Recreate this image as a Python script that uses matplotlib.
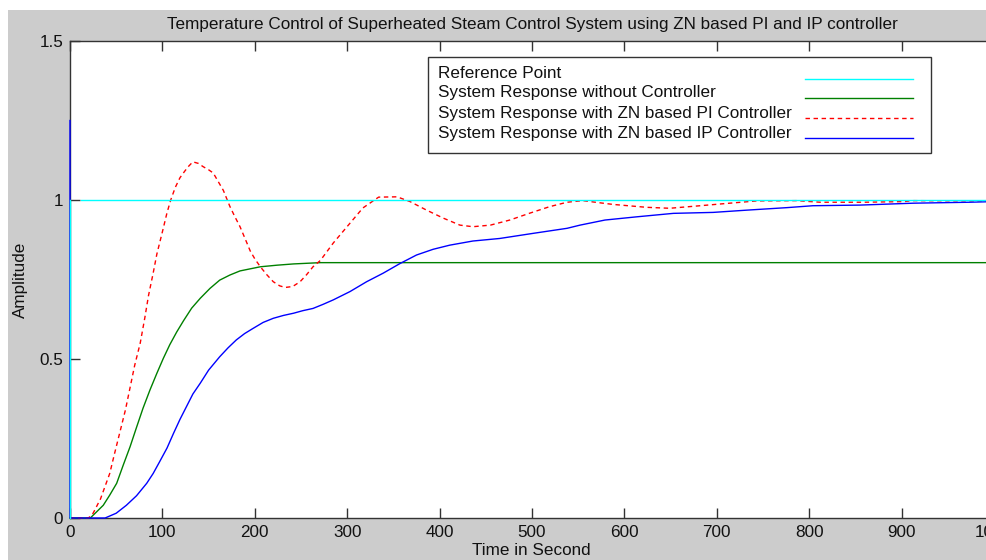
import numpy as np
import matplotlib
matplotlib.use("Agg")
import matplotlib.pyplot as plt
from matplotlib.patches import Rectangle
from matplotlib.lines import Line2D

# ---------------- data ----------------
ref_t = [0, 0, np.nan, 12, 1000]
ref_y = [0, 1, np.nan, 1, 1]

nc_t = [0, 22, 36, 43, 50.5, 57.7, 65, 72, 79, 86.6, 94, 101, 108, 115.5, 123, 131.7,
        141, 151.5, 162, 173, 184, 206, 224, 242, 271, 1000]
nc_y = [0, 0, 0.04, 0.072, 0.109, 0.167, 0.224, 0.285, 0.345, 0.403, 0.455, 0.502,
        0.545, 0.585, 0.621, 0.66, 0.691, 0.722, 0.748, 0.764, 0.777, 0.79, 0.795,
        0.799, 0.803, 0.803]

pi_t = [0, 20, 25, 33, 43, 48, 54, 60, 65, 70, 76, 81, 85, 90, 94, 100, 105, 109, 114,
        119, 124, 128, 133, 139, 144, 150, 155, 160, 166, 173, 178, 184, 190, 195, 200,
        206, 213, 220, 227, 233, 241, 249, 256, 263, 271, 285, 303, 317, 334, 354, 368,
        386, 404, 422, 436, 455, 476, 498, 519, 538, 555, 574, 588, 624, 649, 678, 714,
        743, 786, 812, 859, 902, 913, 985, 1000]
pi_y = [0, 0, 0.015, 0.06, 0.14, 0.2, 0.27, 0.34, 0.41, 0.48, 0.55, 0.63, 0.70, 0.77,
        0.83, 0.90, 0.96, 1.0, 1.04, 1.07, 1.09, 1.105, 1.12, 1.115, 1.105, 1.095, 1.085,
        1.06, 1.03, 0.98, 0.95, 0.916, 0.875, 0.84, 0.815, 0.79, 0.765, 0.743, 0.73,
        0.725, 0.728, 0.743, 0.765, 0.79, 0.81, 0.865, 0.927, 0.975, 1.009, 1.01, 0.995,
        0.968, 0.943, 0.921, 0.916, 0.921, 0.937, 0.959, 0.979, 0.993, 0.998, 0.991,
        0.986, 0.977, 0.974, 0.981, 0.99, 0.997, 0.998, 0.993, 0.993, 0.995, 0.998,
        0.997, 0.997]

ip_t = [0, 0, 38, 50, 61, 72, 83, 90, 97, 105, 112, 119, 126, 133, 141, 150, 162, 171,
        180, 189, 198, 209, 220, 231, 242, 252, 263, 274, 285, 303, 321, 339, 357, 375,
        393, 411, 436, 465, 501, 538, 552, 579, 613, 653, 696, 732, 776, 804, 855, 913,
        974, 1000]
ip_y = [1.25, 0, 0, 0.015, 0.04, 0.07, 0.109, 0.14, 0.177, 0.22, 0.266, 0.31, 0.35,
        0.39, 0.424, 0.465, 0.507, 0.535, 0.56, 0.58, 0.596, 0.615, 0.628, 0.637, 0.644,
        0.652, 0.659, 0.672, 0.686, 0.712, 0.743, 0.77, 0.80, 0.827, 0.845, 0.858,
        0.871, 0.879, 0.895, 0.911, 0.921, 0.937, 0.947, 0.958, 0.961, 0.968, 0.976,
        0.982, 0.984, 0.99, 0.993, 0.995]

labels = ["Reference Point",
          "System Response without Controller",
          "System Response with ZN based PI Controller",
          "System Response with ZN based IP Controller"]
x_ticks = [0, 100, 200, 300, 400, 500, 600, 700, 800, 900, 1000]
y_ticks = [0, 0.5, 1, 1.5]
y_tick_labels = ["0", "0.5", "1", "1.5"]

title = "Temperature Control of Superheated Steam Control System using ZN based PI and IP controller"
xlabel = "Time in Second"
ylabel = "Amplitude"

# ---------------- style ----------------
plt.rcParams['font.family'] = ['Liberation Sans', 'DejaVu Sans']
FS = 12.3
W, H = 987, 560
fig = plt.figure(figsize=(W / 100, H / 100), dpi=100, facecolor='white')
fig.patches.append(Rectangle((8 / W, 0), 1, (H - 10) / H, transform=fig.transFigure,
                             facecolor='#cccccc', edgecolor='none', zorder=-10))

L, R, T, B = 70, 994, 41, 518
ax = fig.add_axes([L / W, (H - B) / H, (R - L) / W, (B - T) / H])
ax.set_facecolor('white')
ax.set_xlim(0, 1000)
ax.set_ylim(0, 1.5)

cyan, green, red, blue = '#00ffff', '#008000', '#ff0000', '#0000ff'
lw = 1.0
dash = (0, (3.2, 2.6))
ax.plot(nc_t, nc_y, color=green, lw=lw, zorder=3, clip_on=False)
ax.plot(pi_t, pi_y, color=red, lw=lw, ls=dash, zorder=3, clip_on=False)
ax.plot(ip_t, ip_y, color=blue, lw=lw, zorder=3, clip_on=False)
ax.plot(ref_t, ref_y, color=cyan, lw=lw, zorder=4, clip_on=False)

ax.set_xticks(x_ticks)
ax.set_yticks(y_ticks)
ax.set_yticklabels(y_tick_labels)
ax.tick_params(direction='in', length=7, width=1, color='#333333', labelsize=FS,
               top=True, right=False, labelcolor='#111111', pad=5)
for s in ax.spines.values():
    s.set_color('#333333')
    s.set_linewidth(1)

ax.set_title(title, fontsize=FS, color='#111111', pad=9)
fig.text(531 / W, 1 - 543 / H, xlabel, ha='center', va='top', fontsize=FS, color='#111111')
fig.text(20 / W, 1 - 280 / H, ylabel, ha='center', va='center', rotation=90,
         fontsize=FS, color='#111111')

# ---------------- legend (MATLAB style: text left, line right) ----------------
def axx(px):
    return (px - L) / (R - L)

def axy(py):
    return (B - py) / (B - T)

ax.add_patch(Rectangle((axx(428), axy(153)), axx(931) - axx(428), axy(57) - axy(153),
                       transform=ax.transAxes, facecolor='white', edgecolor='#333333',
                       lw=1, zorder=5))
base = [78, 97.5, 118, 138]
liney = [79, 98, 118, 138]
styles = [dict(color=cyan), dict(color=green), dict(color=red, ls=dash),
          dict(color=blue)]
for lab, by, ly, st in zip(labels, base, liney, styles):
    ax.text(axx(438), axy(by), lab, transform=ax.transAxes, ha='left', va='baseline',
            fontsize=FS, color='#111111', zorder=6)
    ax.add_line(Line2D([axx(805), axx(913)], [axy(ly), axy(ly)], transform=ax.transAxes,
                       lw=lw, zorder=6, **st))

fig.savefig('out.png', dpi=100, facecolor=fig.get_facecolor())
